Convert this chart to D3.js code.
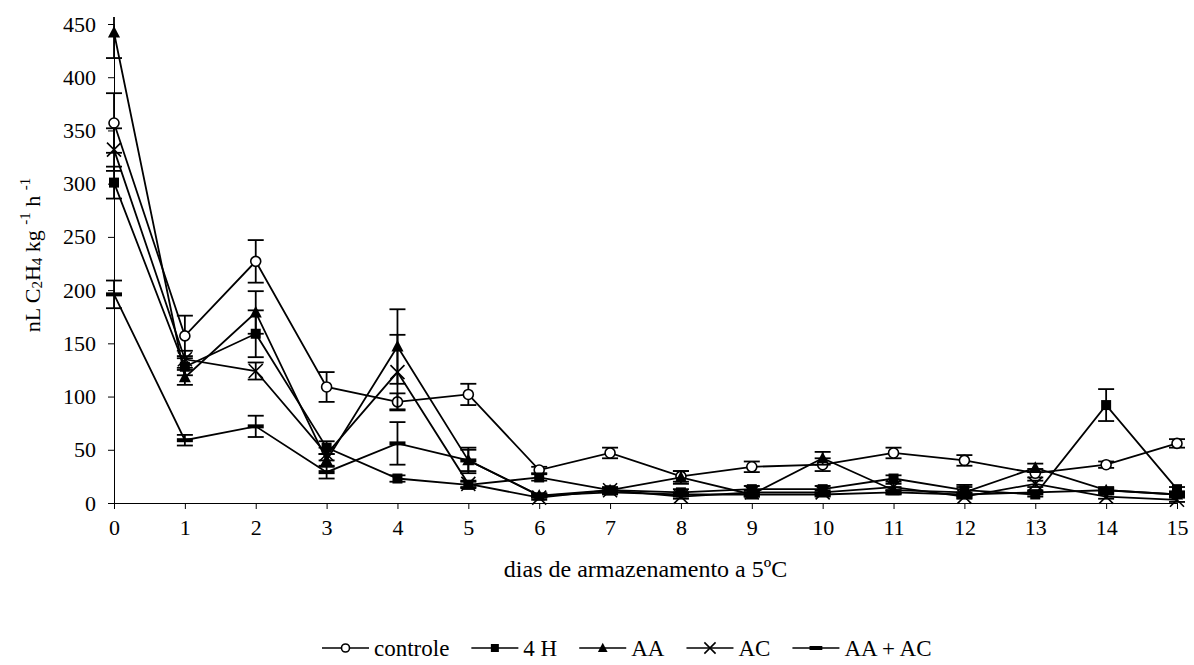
<!DOCTYPE html>
<html>
<head>
<meta charset="utf-8">
<script src="https://cdn.jsdelivr.net/npm/d3@7"></script>
<style>
  body { margin: 0; background: #fff; }
  svg, svg text { font-family: "Liberation Serif", "Times New Roman", serif; }
  svg { display: block; }
</style>
</head>
<body>
<div id="chart"></div>
<script>
// days of storage at 5ºC
const days = [0, 1, 2, 3, 4, 5, 6, 7, 8, 9, 10, 11, 12, 13, 14, 15];
const yTicks = [0, 50, 100, 150, 200, 250, 300, 350, 400, 450];

// ethylene production per treatment (value, +/- error)
const controle    = [357, 157, 227, 109, 95, 102, 31, 47, 25, 34, 36, 47, 40, 28, 36, 56];
const controleErr = [28, 19, 20, 14, 8, 10, 3, 5, 5, 5, 6, 5, 5, 4, 3, 4];
const h4          = [301, 128, 159, 52, 23, 17, 24, 12, 10, 13, 13, 23, 12, 8, 92, 13];
const h4Err       = [15, 8, 22, 6, 3, 3, 3, 3, 3, 3, 3, 3, 5, 2, 15, 2];
const aa          = [442, 118, 179, 40, 147, 40, 7, 12, 24, 8, 42, 12, 10, 33, 12, 8];
const aaErr       = [24, 7, 20, 6, 35, 12, 2, 2, 6, 2, 6, 3, 5, 4, 3, 2];
const ac          = [332, 135, 124, 46, 123, 18, 5, 12, 6, 10, 10, 15, 6, 18, 6, 3];
const acErr       = [20, 8, 8, 6, 35, 3, 2, 2, 2, 2, 2, 3, 2, 3, 2, 2];
const aaac        = [196, 59, 72, 29, 56, 40, 7, 10, 8, 8, 8, 10, 8, 10, 12, 8];
const aaacErr     = [13, 5, 10, 6, 20, 10, 2, 2, 2, 2, 2, 2, 2, 2, 2, 2];

const seriesNames = ["controle", "4 H", "AA", "AC", "AA + AC"];
const markerTypes = ["circle", "square", "triangle", "cross", "dash"];

const series = [
  { name: seriesNames[0], marker: markerTypes[0], values: controle, err: controleErr },
  { name: seriesNames[1], marker: markerTypes[1], values: h4, err: h4Err },
  { name: seriesNames[2], marker: markerTypes[2], values: aa, err: aaErr },
  { name: seriesNames[3], marker: markerTypes[3], values: ac, err: acErr },
  { name: seriesNames[4], marker: markerTypes[4], values: aaac, err: aaacErr }
];

const FONT = '"Liberation Serif", "Times New Roman", serif';
const WIDTH = 1194, HEIGHT = 665;
const svg = d3.select("#chart").append("svg").attr("width", WIDTH).attr("height", HEIGHT)
  .attr("font-family", FONT);

const x = d3.scaleLinear().domain([0, 15]).range([114, 1177]);
const y = d3.scaleLinear().domain([0, 450]).range([503, 24]);

// axes
const yAxis = d3.axisLeft(y).tickValues(yTicks).tickSize(6).tickPadding(12);
const gy = svg.append("g").attr("transform", `translate(${x(0)},0)`).call(yAxis)
  .attr("font-family", FONT);
gy.select(".domain").attr("stroke", "#000").attr("stroke-width", 1);
gy.selectAll("text").style("font-size", "22px").style("font-family", FONT).attr("fill", "#000");

const xAxis = d3.axisBottom(x).tickValues(days).tickFormat(d3.format("d")).tickSize(6).tickPadding(10);
const gx = svg.append("g").attr("transform", `translate(0,${y(0)})`).call(xAxis)
  .attr("font-family", FONT);
gx.select(".domain").attr("stroke", "#000").attr("stroke-width", 1);
gx.selectAll("text").style("font-size", "22px").style("font-family", FONT).attr("fill", "#000");

// axis titles
svg.append("text")
  .attr("x", (x(0) + x(15)) / 2).attr("y", 577)
  .attr("text-anchor", "middle").style("font-size", "24px")
  .text("dias de armazenamento a 5ºC");

const yl = svg.append("text")
  .attr("transform", `translate(40,${255}) rotate(-90)`)
  .attr("text-anchor", "middle").style("font-size", "22px");
yl.append("tspan").text("nL C");
yl.append("tspan").style("font-size", "15px").attr("dy", 2).text("2");
yl.append("tspan").attr("dy", -2).text("H");
yl.append("tspan").style("font-size", "15px").attr("dy", 2).text("4");
yl.append("tspan").attr("dy", -2).text(" kg ");
yl.append("tspan").style("font-size", "15px").attr("dy", -10).text("-1");
yl.append("tspan").attr("dy", 10).text(" h ");
yl.append("tspan").style("font-size", "15px").attr("dy", -10).text("-1");

// clip error bars at the top of plot area
svg.append("defs").append("clipPath").attr("id", "plotClip")
  .append("rect").attr("x", 0).attr("y", y(450) - 7).attr("width", WIDTH).attr("height", HEIGHT);

function drawMarker(g, type, cx, cy, s) {
  if (type === "circle") {
    g.append("circle").attr("cx", cx).attr("cy", cy).attr("r", 5 * s)
      .attr("fill", "#fff").attr("stroke", "#000").attr("stroke-width", 1.6);
  } else if (type === "square") {
    g.append("rect").attr("x", cx - 5 * s).attr("y", cy - 5 * s)
      .attr("width", 10 * s).attr("height", 10 * s).attr("fill", "#000");
  } else if (type === "triangle") {
    const h = 11 * s;
    g.append("path")
      .attr("d", `M${cx},${cy - h * 0.6}L${cx + h * 0.55},${cy + h * 0.45}L${cx - h * 0.55},${cy + h * 0.45}Z`)
      .attr("fill", "#000");
  } else if (type === "cross") {
    const r = 7 * s;
    g.append("path")
      .attr("d", `M${cx - r},${cy - r}L${cx + r},${cy + r}M${cx - r},${cy + r}L${cx + r},${cy - r}`)
      .attr("stroke", "#000").attr("stroke-width", 1.6).attr("fill", "none");
  } else if (type === "dash") {
    g.append("rect").attr("x", cx - 8 * s).attr("y", cy - 2)
      .attr("width", 16 * s).attr("height", 4).attr("fill", "#000");
  }
}

const line = d3.line().x((d, i) => x(days[i])).y(d => y(d));

series.forEach(s => {
  const g = svg.append("g");
  g.append("path").datum(s.values).attr("d", line)
    .attr("fill", "none").attr("stroke", "#000").attr("stroke-width", 1.8);

  const eb = g.append("g").attr("clip-path", "url(#plotClip)")
    .attr("stroke", "#000").attr("stroke-width", 1.8);
  s.values.forEach((v, i) => {
    const cx = x(days[i]);
    const y1 = y(v + s.err[i]), y2 = y(Math.max(0, v - s.err[i]));
    eb.append("line").attr("x1", cx).attr("x2", cx).attr("y1", y1).attr("y2", y2);
    eb.append("line").attr("x1", cx - 8).attr("x2", cx + 8).attr("y1", y1).attr("y2", y1);
    eb.append("line").attr("x1", cx - 8).attr("x2", cx + 8).attr("y1", y2).attr("y2", y2);
  });

  s.values.forEach((v, i) => drawMarker(g, s.marker, x(days[i]), y(v), 1));
});

// legend
const legend = svg.append("g").attr("transform", "translate(0,648)");
let lx = 322;
series.forEach(s => {
  legend.append("line").attr("x1", lx).attr("x2", lx + 47).attr("y1", 0).attr("y2", 0)
    .attr("stroke", "#000").attr("stroke-width", 1.6);
  drawMarker(legend, s.marker, lx + 23.5, 0, 0.8);
  const t = legend.append("text").attr("x", lx + 52).attr("y", 0).attr("dy", "0.33em")
    .style("font-size", "23px").text(s.name);
  lx += 52 + t.node().getComputedTextLength() + 22;
});
</script>
</body>
</html>
